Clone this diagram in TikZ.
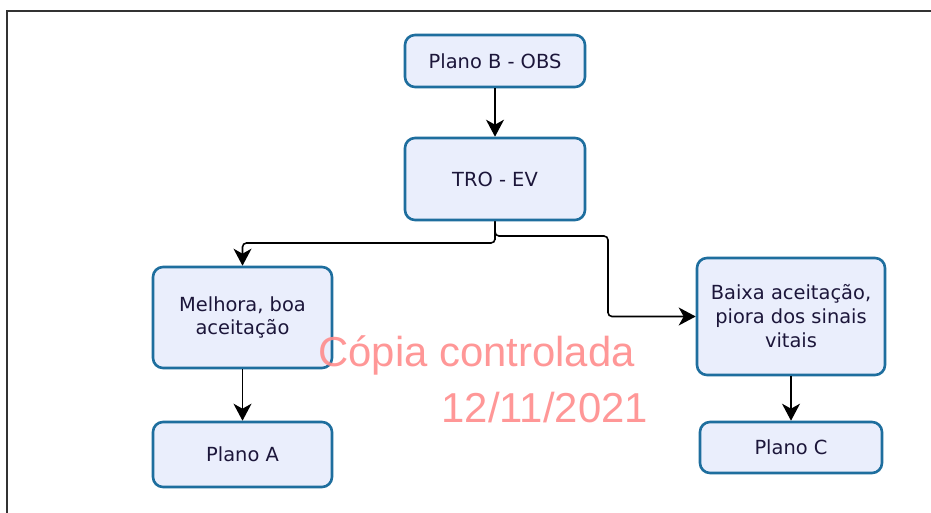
\documentclass[tikz,border=0pt]{standalone}
\usepackage{fontspec}
\setmainfont{DejaVu Sans}
\newfontfamily\wmfont{Liberation Sans}
\usetikzlibrary{arrows.meta}
\definecolor{boxline}{RGB}{30,110,158}
\definecolor{boxfill}{RGB}{234,238,252}
\definecolor{boxtext}{RGB}{28,22,58}
\definecolor{wmred}{RGB}{255,140,140}
\tikzset{
  flowbox/.style={draw=boxline, line width=2.6bp, fill=boxfill, rounded corners=10bp,
    align=center, text=boxtext, font=\fontsize{19.5}{24}\selectfont, inner sep=0pt},
  conn/.style={draw=black, line width=1.6bp, -{Stealth[length=17bp,width=18bp,inset=5bp]}, rounded corners=4bp},
}
\begin{document}
\begin{tikzpicture}[x=1bp,y=-1bp]
\useasboundingbox (0,0) rectangle (931,513);
\fill[white] (0,0) rectangle (931,513);
\draw[line width=1.8bp, draw=black!80] (7,513) -- (7,11) -- (931,11);

\node[flowbox, minimum width=180bp, minimum height=52bp] (pb) at (495,61) {Plano B - OBS};
\node[flowbox, minimum width=180bp, minimum height=82bp] (tro) at (495,179) {TRO - EV};
\node[flowbox, minimum width=179bp, minimum height=101bp] (mel) at (242.5,317.5) {Melhora, boa\\aceitação};
\node[flowbox, minimum width=179bp, minimum height=65bp] (pa) at (242.5,454.5) {Plano A};
\node[flowbox, minimum width=188bp, minimum height=117bp] (bai) at (791,316.5) {Baixa aceitação,\\piora dos sinais\\vitais};
\node[flowbox, minimum width=182bp, minimum height=51bp] (pc) at (791,447.5) {Plano C};

\coordinate (j1) at (495,236);
\coordinate (j2) at (495,243);
\draw[conn] (pb) -- (tro);
\draw[conn] (tro.south) -- (j1) -- (j2) -- (242.5,243) -- (mel.north);
\draw[conn] (tro.south) -- (j1) -- (608,236) -- (608,316.5) -- (bai.west);
\draw[conn] (mel) -- (pa);
\draw[conn] (bai) -- (pc);

\node[text=wmred, font=\wmfont\fontsize{42}{46}\selectfont, anchor=base west, opacity=0.9] (wm1) at (315,367) {Cópia controlada};
\node[text=wmred, font=\wmfont\fontsize{42}{46}\selectfont, anchor=base west, opacity=0.9] (wm2) at (438,422) {12/11/2021};
\end{tikzpicture}
\end{document}
